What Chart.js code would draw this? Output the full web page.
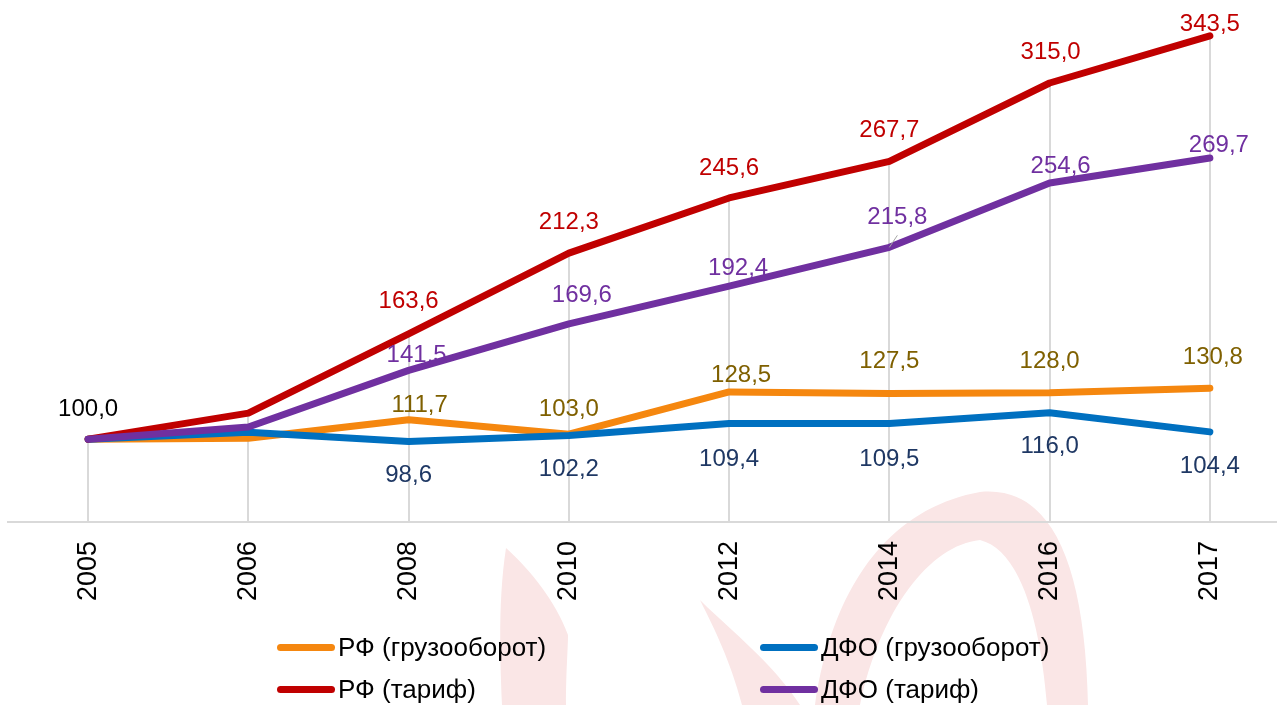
<!DOCTYPE html>
<html>
<head>
<meta charset="utf-8">
<script src="https://cdn.jsdelivr.net/npm/chart.js@4/dist/chart.umd.min.js"></script>
<style>
  html, body { margin:0; padding:0; background:#fff; overflow:hidden; }
  #wrap { position:relative; width:1277px; height:705px; overflow:hidden; background:#fff; }
  #wm { position:absolute; left:0; top:0; }
  #c { position:absolute; left:0; top:0; }
  #legend { position:absolute; left:277px; top:626px; display:grid;
            grid-template-columns:483px 483px; grid-auto-rows:42px;
            font-family:"Liberation Sans", Arial, sans-serif; font-size:26px; color:#000; }
  .li { display:flex; align-items:center; white-space:nowrap; }
  .sw { display:inline-block; width:58px; height:7px; border-radius:4px; margin-right:3px; }
</style>
</head>
<body>
<div id="wrap">
  <svg id="wm" width="1277" height="705" viewBox="0 0 1277 705">
    <g fill="#FAE6E6">
      <path d="M506,548 C498,600 500,660 502,705 L566,705 C566,670 568,650 568,635 C555,600 530,570 506,548 Z"/>
      <path d="M700,600 C730,630 770,660 800,705 L742,705 C730,660 715,630 700,600 Z"/>
      <path d="M815,705 C830,600 880,510 980,492 C1050,485 1085,560 1088,705 L1047,705 C1040,620 1020,550 980,540 C930,545 880,610 860,705 Z"/>
    </g>
  </svg>
  <canvas id="c" width="1292" height="705"></canvas>
  <div id="legend"></div>
</div>
<script>
// ---- data ----
const categories = ['2005', '2006', '2008', '2010', '2012', '2014', '2016', '2017'];
const seriesNames = ['РФ (грузооборот)', 'ДФО (грузооборот)', 'РФ (тариф)', 'ДФО (тариф)'];
const rfFreight  = [100.0, 100.6, 111.7, 103.0, 128.5, 127.5, 128.0, 130.8];
const dfoFreight = [100.0, 104.2,  98.6, 102.2, 109.4, 109.5, 116.0, 104.4];
const rfTariff   = [100.0, 115.7, 163.6, 212.3, 245.6, 267.7, 315.0, 343.5];
const dfoTariff  = [100.0, 107.3, 141.5, 169.6, 192.4, 215.8, 254.6, 269.7];

// ---- styles ----
const FONT = '"Liberation Sans", Arial, sans-serif';
const lineColors  = ['#F5870F', '#0070C0', '#C00000', '#7030A0'];
const labelColors = ['#7F6000', '#1F3864', '#C00000', '#7030A0'];
// label offsets [dx, dy] relative to the point; null = no label
const labelOffsets = [
  [null, null, [11,-14], [0,-25], [12,-17], [0,-32], [0,-31], [3,-31]],
  [null, null, [0,34], [0,34], [0,36], [0,36], [0,34], [0,34]],
  [[0,-30], null, [0,-32], [0,-31], [0,-30], [0,-31], [1,-31], [0,-11]],
  [null, null, [8,-15], [13,-28], [9,-18], [8,-30], [11,-17], [9,-13]]
];
const labelColorOverride = { '2-0': '#000000' };
const leaderLines = { '3-5': true };

const seriesData = [rfFreight, dfoFreight, rfTariff, dfoTariff];

const fmt = v => v.toFixed(1).replace('.', ',');

const dropLines = {
  id: 'dropLines',
  beforeDatasetsDraw(chart) {
    const { ctx, chartArea, scales: { x, y } } = chart;
    ctx.save();
    ctx.strokeStyle = '#D9D9D9';
    ctx.lineWidth = 2;
    categories.forEach((c, i) => {
      const maxV = Math.max(...chart.data.datasets.map(d => d.data[i]));
      const px = Math.round(x.getPixelForValue(i));
      ctx.beginPath();
      ctx.moveTo(px, y.getPixelForValue(maxV));
      ctx.lineTo(px, chartArea.bottom);
      ctx.stroke();
    });
    ctx.restore();
  }
};

const dataLabels = {
  id: 'dataLabels',
  afterDatasetsDraw(chart) {
    const { ctx } = chart;
    ctx.save();
    ctx.font = '24px ' + FONT;
    ctx.textAlign = 'center';
    ctx.textBaseline = 'middle';
    chart.data.datasets.forEach((ds, di) => {
      const meta = chart.getDatasetMeta(di);
      meta.data.forEach((pt, i) => {
        const off = labelOffsets[di][i];
        if (!off) return;
        const key = di + '-' + i;
        const lx = pt.x + off[0], ly = pt.y + off[1];
        if (leaderLines[key]) {
          ctx.strokeStyle = '#A6A6A6';
          ctx.lineWidth = 1;
          ctx.beginPath();
          ctx.moveTo(pt.x + 8, pt.y - 12);
          ctx.lineTo(pt.x, pt.y);
          ctx.stroke();
        }
        ctx.fillStyle = labelColorOverride[key] || labelColors[di];
        ctx.fillText(fmt(ds.data[i]), lx, ly);
      });
    });
    ctx.restore();
  }
};

const datasets = seriesData.map((d, i) => ({
  label: seriesNames[i],
  data: d,
  borderColor: lineColors[i],
  backgroundColor: lineColors[i],
  borderWidth: 7,
  borderCapStyle: 'round',
  borderJoinStyle: 'round',
  pointRadius: 0,
  pointHoverRadius: 0,
  tension: 0,
  fill: false,
  order: 4 - i
}));

const chart = new Chart(document.getElementById('c'), {
  type: 'line',
  data: { labels: categories, datasets },
  options: {
    responsive: false,
    animation: false,
    events: [],
    layout: { padding: { top: 25, left: 8, right: 2, bottom: 0 } },
    plugins: { legend: { display: false }, tooltip: { enabled: false } },
    scales: {
      x: {
        offset: true,
        grid: { display: false, drawTicks: false },
        border: { display: true, color: '#D9D9D9', width: 2 },
        ticks: {
          minRotation: 90, maxRotation: 90, autoSkip: false,
          padding: 19, color: '#000',
          font: { size: 27, family: FONT }
        },
        afterFit: s => { s.height = 183; }
      },
      y: { display: false, min: 50, max: 350 }
    }
  },
  plugins: [dropLines, dataLabels]
});

// HTML legend generated from the chart datasets
const legend = document.getElementById('legend');
chart.data.datasets.forEach(ds => {
  const item = document.createElement('div');
  item.className = 'li';
  const sw = document.createElement('span');
  sw.className = 'sw';
  sw.style.background = ds.borderColor;
  const t = document.createElement('span');
  t.textContent = ds.label;
  item.appendChild(sw);
  item.appendChild(t);
  legend.appendChild(item);
});
</script>
</body>
</html>
